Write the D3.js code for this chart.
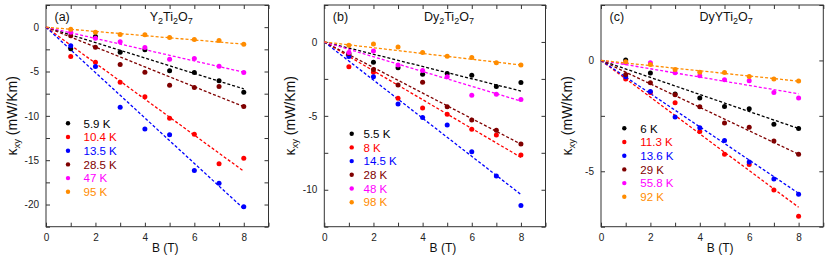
<!DOCTYPE html>
<html>
<head>
<meta charset="utf-8">
<script src="https://cdn.jsdelivr.net/npm/d3@7"></script>
<style>
  body { margin: 0; background: #fff; }
  svg { display: block; font-family: "Liberation Sans", Arial, sans-serif; }
  .tick text { fill: #222; }
</style>
</head>
<body>
<div id="chart"></div>
<script>
// field values (T)
var fields = [1, 2, 3, 4, 5, 6, 7, 8];
var seriesColors = ['#000000', '#ff0000', '#0000ff', '#7f0000', '#ff00ff', '#ff8c00'];

// (a) Y2Ti2O7
var tempsA = ['5.9 K', '10.4 K', '13.5 K', '28.5 K', '47 K', '95 K'];
var valuesA = [
  [-2.44, -1.05, -2.82, -2.56, -4.92, -5.11, -6.05, -7.33],
  [-3.3, -3.95, -6.2, -7.86, -10.26, -12.07, -15.41, -14.77],
  [-2.1, -4.44, -9.02, -11.47, -12.14, -16.17, -17.59, -20.26],
  [-0.98, -2.26, -4.21, -5.08, -6.54, -6.8, -6.69, -8.95],
  [-0.56, -1.24, -1.65, -2.29, -3.61, -3.53, -4.4, -5.11],
  [-0.23, -0.56, -0.83, -0.86, -1.17, -1.39, -1.5, -1.92]
];
var slopesA = [-0.87, -2.03, -2.56, -1.12, -0.635, -0.24];

// (b) Dy2Ti2O7
var tempsB = ['5.5 K', '8 K', '14.5 K', '28 K', '48 K', '98 K'];
var valuesB = [
  [-0.86, -1.38, -1.74, -2.19, -2.14, -2.26, -3.02, -2.75],
  [-1.67, -2.05, -3.81, -4.47, -4.9, -5.91, -6.3, -7.65],
  [-0.99, -2.35, -4.2, -5.12, -5.62, -7.43, -9.07, -11.06],
  [-0.78, -1.87, -2.91, -2.73, -4.38, -5.28, -5.98, -6.91],
  [-0.72, -0.61, -1.56, -1.94, -2.35, -3.61, -3.54, -3.9],
  [-0.23, -0.14, -0.34, -0.72, -0.97, -1.06, -1.4, -1.56]
];
var slopesB = [-0.415, -0.976, -1.29, -0.864, -0.5, -0.195];

// (c) DyYTi2O7
var tempsC = ['6 K', '11.3 K', '13.6 K', '29 K', '55.8 K', '92 K'];
var valuesC = [
  [0.02, -0.57, -1.51, -1.69, -2.08, -2.18, -2.88, -3.07],
  [-0.84, -1.45, -1.91, -3.21, -4.23, -4.7, -5.84, -7.03],
  [-0.74, -1.4, -2.55, -3.04, -3.61, -4.58, -5.35, -6.04],
  [-0.63, -1.01, -1.55, -2.09, -2.82, -3.01, -3.63, -4.23],
  [-0.1, -0.1, -0.56, -0.69, -0.87, -0.92, -1.45, -1.69],
  [-0.06, -0.18, -0.41, -0.53, -0.54, -0.72, -0.84, -0.93]
];
var slopesC = [-0.384, -0.828, -0.749, -0.529, -0.188, -0.117];

var panels = [
  { tag: '(a)', title: ['Y', '2', 'Ti', '2', 'O', '7'], temps: tempsA, values: valuesA, slopes: slopesA,
    box: [46, 268.5, 5, 226.7], ymin: -22.5, legend: [68, 83.5, 123.3] },
  { tag: '(b)', title: ['Dy', '2', 'Ti', '2', 'O', '7'], temps: tempsB, values: valuesB, slopes: slopesB,
    box: [324.3, 545.5, 5, 226.7], ymin: -12.5, legend: [351.7, 363.5, 133.7] },
  { tag: '(c)', title: ['DyYTi', '2', 'O', '7'], temps: tempsC, values: valuesC, slopes: slopesC,
    box: [601, 823.3, 5, 226.7], ymin: -7.5, legend: [624.3, 640.3, 128.3] }
];

var W = 830, H = 261;
var svg = d3.select('#chart').append('svg').attr('width', W).attr('height', H);

function fmt(d) { return d < 0 ? '-' + Math.abs(d) : String(d); }

panels.forEach(function(p) {
  var x = d3.scaleLinear().domain([0, 9]).range([p.box[0], p.box[1]]);
  var y = d3.scaleLinear().domain([p.ymin, 2.5]).range([p.box[3], p.box[2]]);
  var g = svg.append('g');

  var xt = d3.range(0, 10, 1);
  var yt = d3.range(p.ymin, 2.51, 2.5);

  // axes with inward ticks
  g.append('g').attr('transform', 'translate(0,' + p.box[3] + ')')
    .call(d3.axisBottom(x).tickValues(xt).tickSize(-4).tickPadding(7)
      .tickFormat(function(d) { return d % 2 === 0 && d < 9 ? fmt(d) : ''; }))
    .call(function(a) { a.select('.domain').remove(); a.selectAll('text').attr('font-size', 10); });
  g.append('g').attr('transform', 'translate(0,' + p.box[2] + ')')
    .call(d3.axisTop(x).tickValues(xt).tickSize(-4).tickFormat(''))
    .call(function(a) { a.select('.domain').remove(); });
  g.append('g').attr('transform', 'translate(' + p.box[0] + ',0)')
    .call(d3.axisLeft(y).tickValues(yt).tickSize(-4).tickPadding(7)
      .tickFormat(function(d) { return d % 5 === 0 && d < 2 ? fmt(d) : ''; }))
    .call(function(a) { a.select('.domain').remove(); a.selectAll('text').attr('font-size', 10); });
  g.append('g').attr('transform', 'translate(' + p.box[1] + ',0)')
    .call(d3.axisRight(y).tickValues(yt).tickSize(-4).tickFormat(''))
    .call(function(a) { a.select('.domain').remove(); });
  g.selectAll('.tick line').attr('stroke', '#333');

  g.append('rect')
    .attr('x', p.box[0]).attr('y', p.box[2])
    .attr('width', p.box[1] - p.box[0]).attr('height', p.box[3] - p.box[2])
    .attr('fill', 'none').attr('stroke', '#333').attr('stroke-width', 1);

  // fit lines
  g.selectAll('line.fit').data(p.slopes).enter().append('line')
    .attr('class', 'fit')
    .attr('x1', x(0)).attr('y1', y(0))
    .attr('x2', x(8)).attr('y2', function(s) { return y(s * 8); })
    .attr('stroke', function(s, i) { return seriesColors[i]; })
    .attr('stroke-width', 1.3)
    .attr('stroke-dasharray', '3,2');

  // data points
  p.values.forEach(function(vals, i) {
    g.selectAll(null).data(vals).enter().append('circle')
      .attr('cx', function(d, j) { return x(fields[j]); })
      .attr('cy', function(d) { return y(d); })
      .attr('r', 2.5)
      .attr('fill', seriesColors[i]);
  });

  // legend
  p.temps.forEach(function(t, i) {
    var ly = p.legend[2] + i * 13.7;
    g.append('circle').attr('cx', p.legend[0]).attr('cy', ly).attr('r', 2.2).attr('fill', seriesColors[i]);
    g.append('text').attr('x', p.legend[1]).attr('y', ly + 4.2)
      .attr('font-size', 11.5).attr('fill', seriesColors[i]).text(t);
  });

  // panel tag and title
  g.append('text').attr('x', p.box[0] + 8.5).attr('y', 21)
    .attr('font-size', 12.5).attr('fill', '#111').text(p.tag);
  var title = g.append('text')
    .attr('x', (p.box[0] + p.box[1]) / 2 + 14).attr('y', 21)
    .attr('text-anchor', 'middle').attr('font-size', 12.5).attr('fill', '#111');
  p.title.forEach(function(s, k) {
    var sub = k % 2 === 1;
    title.append('tspan').text(s)
      .attr('font-size', sub ? 9 : 12.5)
      .attr('dy', sub ? 3 : (k > 0 ? -3 : 0));
  });

  // axis labels
  g.append('text').attr('x', (p.box[0] + p.box[1]) / 2 + 8).attr('y', 252)
    .attr('text-anchor', 'middle').attr('font-size', 12).attr('fill', '#111').text('B (T)');
  var yl = g.append('text')
    .attr('transform', 'translate(' + (p.box[0] - 29) + ',' + ((p.box[2] + p.box[3]) / 2) + ') rotate(-90)')
    .attr('text-anchor', 'middle').attr('font-size', 14).attr('fill', '#111');
  yl.append('tspan').text('κ');
  yl.append('tspan').text('xy').attr('font-size', 9.5).attr('dy', 3);
  yl.append('tspan').text(' (mW/Km)').attr('dy', -3);
});
</script>
</body>
</html>
